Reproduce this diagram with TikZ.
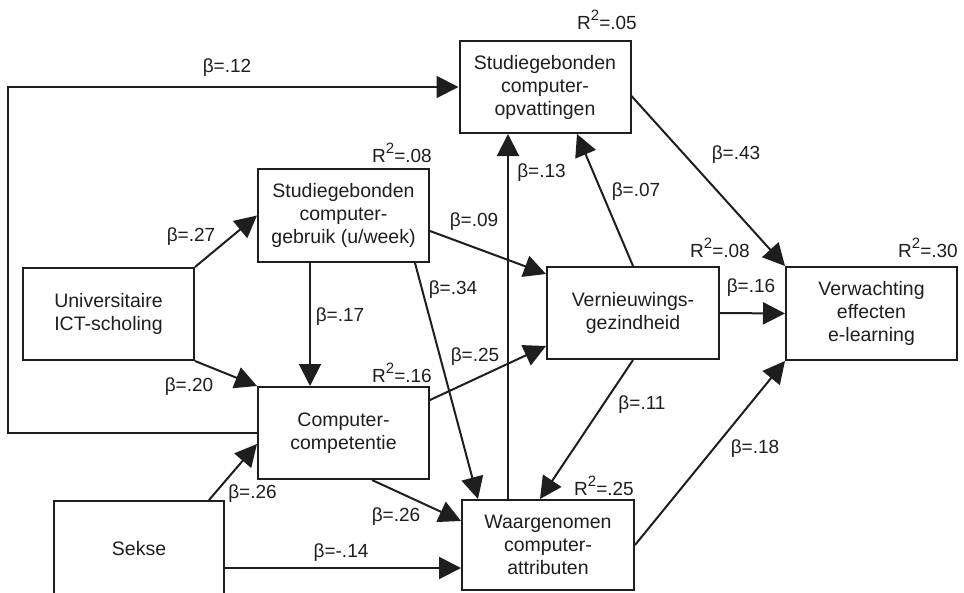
\documentclass[tikz,border=0pt]{standalone}
\usepackage{fontspec}
\setmainfont{Liberation Sans}
\usepackage{xcolor}
\definecolor{ink}{HTML}{1E1E1E}
\usetikzlibrary{arrows.meta,positioning}
\tikzset{
  >={Triangle[length=22pt,width=22pt]},
  factor/.style={draw=ink,line width=2pt,minimum width=171pt,minimum height=92pt,
                 align=center,font=\fontsize{19.5}{23}\selectfont,text=ink,inner sep=0pt},
  coef/.style  ={font=\fontsize{19}{22}\selectfont,text=ink,inner sep=1pt},
  effect/.style={->,draw=ink,line width=2pt},
}
\newcommand{\rsq}[1]{R\raisebox{0.45em}{\fontsize{15}{15}\selectfont 2}=#1}

\begin{document}
\begin{tikzpicture}[x=1pt,y=-1pt]
\useasboundingbox (0,0) rectangle (964,592);
% factors
\node[factor] (sco) at (545,87) {Studiegebonden\\computer-\\opvattingen};
\node[factor,minimum height=93pt] (scg) at (343.5,215.5) {Studiegebonden\\computer-\\gebruik (u/week)};
\node[factor] (uis) at (108.5,314) {Universitaire\\ICT-scholing};
\node[factor] (cc) at (343.5,433) {Computer-\\competentie};
\node[factor,minimum width=170pt,minimum height=96pt] (sekse) at (139,549) {Sekse};
\node[factor,minimum width=172pt,minimum height=90pt] (wca) at (548,545) {Waargenomen\\computer-\\attributen};
\node[factor,minimum width=172pt] (vg) at (633,313) {Vernieuwings-\\gezindheid};
\node[factor,minimum height=93pt] (vee) at (871.5,313.5) {Verwachting\\effecten\\e-learning};
% explained variance
\node[coef] (r1) at (607,20) {\rsq{.05}};
\node[coef] (r2) at (402,153) {\rsq{.08}};
\node[coef] (r3) at (402,373) {\rsq{.16}};
\node[coef] (r4) at (720,248) {\rsq{.08}};
\node[coef] (r5) at (928,248) {\rsq{.30}};
\node[coef] (r6) at (604,486) {\rsq{.25}};
% paths
\coordinate (fbx) at (8,0);
\draw[effect] (cc.west) -- (cc.west -| fbx) |- (sco.west);
\draw[effect] (uis.north east) -- (scg.west);
\draw[effect] (uis.south east) -- (cc.north west);
\draw[effect] ([xshift=-33.5pt]scg.south) -- ([xshift=-33.5pt]cc.north);
\draw[effect] ([xshift=-16pt]sekse.north east) -- ([yshift=-11pt]cc.west);
\draw[effect] ([xshift=28.5pt]cc.south) -- ([yshift=24pt]wca.west);
\draw[effect] ([yshift=-19pt]sekse.east) -- ([yshift=-19pt]sekse.east -| wca.west);
\draw[effect] ([xshift=71.5pt]scg.south) -- ([xshift=-70pt]wca.north);
\draw[effect] ([yshift=33pt]cc.east) -- ([yshift=-33pt]vg.west);
\draw[effect] ([yshift=-15.5pt]scg.east) -- ([yshift=-8pt]vg.north west);
\draw[effect] ([xshift=-40pt]wca.north) -- ([xshift=-40pt]wca.north |- sco.south);
\draw[effect] (vg.north) -- ([xshift=32pt]sco.south);
\draw[effect] ([yshift=-9pt]sco.east) -- (vee.north west);
\draw[effect] (vg.east) -- (vee.west);
\draw[effect] (vg.south) -- ([xshift=-8pt]wca.north);
\draw[effect] (wca.east) -- (vee.south west);
% coefficients
\node[coef] at (227,68) {β=.12};
\node[coef] at (191,237) {β=.27};
\node[coef] at (189,387) {β=.20};
\node[coef] at (340,317) {β=.17};
\node[coef] at (252.5,494) {β=.26};
\node[coef] at (396,517) {β=.26};
\node[coef] at (341,553) {β=-.14};
\node[coef] at (453,290) {β=.34};
\node[coef] at (475,357) {β=.25};
\node[coef] at (474,222) {β=.09};
\node[coef] at (541.5,173) {β=.13};
\node[coef] at (636,192) {β=.07};
\node[coef] at (736,155) {β=.43};
\node[coef] at (751,288) {β=.16};
\node[coef] at (642,405) {β=.11};
\node[coef] at (755,449) {β=.18};
\end{tikzpicture}
\end{document}
